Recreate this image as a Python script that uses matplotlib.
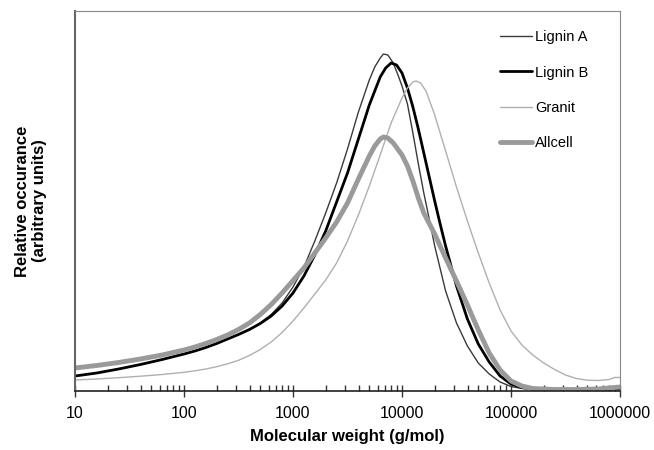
import matplotlib
matplotlib.use("Agg")
import matplotlib.pyplot as plt
from matplotlib.ticker import LogLocator, FixedLocator, NullFormatter

plt.rcParams['font.family'] = ['Liberation Sans', 'DejaVu Sans']

# log10(molecular weight) and relative occurrence (arbitrary units)
ligninA_logx = [1.0, 1.2, 1.4, 1.6, 1.8, 2.0, 2.1, 2.2, 2.3, 2.4, 2.5, 2.6, 2.7, 2.8, 2.9, 3.0,
                3.1, 3.2, 3.3, 3.4, 3.5, 3.6, 3.7, 3.75, 3.8, 3.83, 3.87, 3.92, 3.97, 4.0,
                4.05, 4.1, 4.15, 4.2, 4.25, 4.3, 4.4, 4.5, 4.6, 4.7, 4.8, 4.9, 5.0, 5.1,
                5.3, 5.6, 5.8, 5.9, 5.96, 6.0]
ligninA_y = [15, 18, 22, 26.5, 31.5, 37, 40, 43.5, 47.5, 52, 56.5, 61.5, 68, 76.5, 88, 104,
             124, 150, 178, 208, 242, 279, 311, 324, 333, 337, 336, 328, 314, 305,
             287, 258, 227, 198, 172, 145, 100, 68, 45, 28, 17, 9, 4.5, 2.5,
             1, 0.5, 0.8, 1.5, 3.5, 3.5]

ligninB_logx = [1.0, 1.2, 1.4, 1.6, 1.8, 2.0, 2.1, 2.2, 2.3, 2.4, 2.5, 2.6, 2.7, 2.8, 2.9, 3.0,
                3.1, 3.2, 3.3, 3.4, 3.5, 3.6, 3.7, 3.8, 3.85, 3.9, 3.95, 4.0, 4.05, 4.1,
                4.15, 4.2, 4.25, 4.3, 4.35, 4.4, 4.5, 4.6, 4.7, 4.8, 4.9, 5.0, 5.1, 5.3,
                5.6, 5.8, 5.95, 6.0]
ligninB_y = [15, 18, 22, 26.5, 31.5, 37, 40, 43.5, 47.5, 52, 56.5, 61.5, 67.5, 75, 85, 98,
             115, 136, 160, 189, 218, 252, 286, 314, 323, 328, 326, 318, 303, 284,
             262, 238, 214, 190, 167, 145, 105, 72, 47, 29, 15, 7, 3.5, 1.2,
             0.5, 0.8, 2, 2]

granit_logx = [1.0, 1.2, 1.4, 1.6, 1.8, 2.0, 2.1, 2.2, 2.3, 2.4, 2.5, 2.6, 2.7, 2.8, 2.9, 3.0,
               3.1, 3.2, 3.3, 3.4, 3.5, 3.6, 3.7, 3.8, 3.9, 4.0, 4.05, 4.1, 4.13, 4.17,
               4.22, 4.3, 4.4, 4.5, 4.6, 4.7, 4.8, 4.9, 5.0, 5.1, 5.2, 5.3, 5.4, 5.5,
               5.6, 5.7, 5.8, 5.9, 5.95, 6.0]
granit_y = [11, 12, 13.3, 14.8, 16.5, 18.7, 20.2, 22, 24.3, 27.2, 30.7, 35.5, 41.5, 49, 58.5, 70,
            83, 97, 111, 128, 150, 176, 205, 236, 268, 293, 303, 309, 310, 308,
            300, 276, 240, 204, 170, 138, 108, 81, 60, 46, 36, 28, 21.5, 16,
            12.5, 10.8, 10.5, 11.5, 13.5, 13.5]

allcell_logx = [1.0, 1.2, 1.4, 1.6, 1.8, 2.0, 2.1, 2.2, 2.3, 2.4, 2.5, 2.6, 2.7, 2.8, 2.9, 3.0,
                3.1, 3.2, 3.3, 3.4, 3.5, 3.6, 3.7, 3.75, 3.8, 3.83, 3.87, 3.92, 4.0, 4.05,
                4.1, 4.15, 4.2, 4.3, 4.4, 4.5, 4.6, 4.7, 4.8, 4.9, 5.0, 5.1, 5.2, 5.4,
                5.6, 5.8, 5.9, 6.0]
allcell_y = [23, 25.5, 28.5, 32, 36, 41, 44, 47.5, 51.5, 56, 61.5, 68, 76.5, 86.5, 98, 110.5,
             123, 138, 153, 169, 188, 212, 235, 245, 252, 254, 253, 248, 236, 225,
             210, 193, 178, 157, 133, 110, 86, 61, 38, 21, 10, 5, 2.5, 1.5,
             1.5, 2, 3, 4]

series = [
    ("Lignin A", ligninA_logx, ligninA_y, "#3a3a3a", 1.0),
    ("Lignin B", ligninB_logx, ligninB_y, "#000000", 2.0),
    ("Granit", granit_logx, granit_y, "#b0b0b0", 1.0),
    ("Allcell", allcell_logx, allcell_y, "#9a9a9a", 3.5),
]

fig = plt.figure(figsize=(6.54, 4.5), dpi=100)
ax = fig.add_axes([75/654, 59/450, 545/654, 380/450])

for label, lx, y, color, lw in series:
    x = [10 ** v for v in lx]
    ax.plot(x, y, color=color, lw=lw, label=label,
            solid_capstyle='round', solid_joinstyle='round')

ax.set_xscale('log')
ax.set_xlim(10, 1e6)
ax.set_ylim(0, 380)
ax.set_yticks([])

ax.xaxis.set_major_locator(FixedLocator([10, 100, 1000, 10000, 100000, 1000000]))
ax.set_xticklabels(['10', '100', '1000', '10000', '100000', '1000000'], fontsize=11.5)
ax.xaxis.set_minor_locator(LogLocator(base=10, subs=range(2, 10)))
ax.xaxis.set_minor_formatter(NullFormatter())
ax.tick_params(axis='x', which='major', direction='inout', length=9, width=1, color='#333333', pad=6)
ax.tick_params(axis='x', which='minor', direction='in', length=4, width=1, color='#333333')

ax.spines['bottom'].set_color('#222222')
ax.spines['bottom'].set_linewidth(1.2)
ax.spines['left'].set_color('#666666')
ax.spines['left'].set_linewidth(1.5)
ax.spines['top'].set_color('#888888')
ax.spines['right'].set_color('#888888')

ax.set_xlabel('Molecular weight (g/mol)', fontsize=12, fontweight='bold', labelpad=6)
ax.set_ylabel('Relative occurance\n(arbitrary units)', fontsize=12, fontweight='bold', labelpad=20)

leg = ax.legend(loc='upper left', bbox_to_anchor=(0.78, 0.949), frameon=False,
                fontsize=10.5, handlelength=2.2, handletextpad=0.2,
                labelspacing=1.45, borderpad=0, borderaxespad=0)

fig.savefig('out.png', dpi=100)
